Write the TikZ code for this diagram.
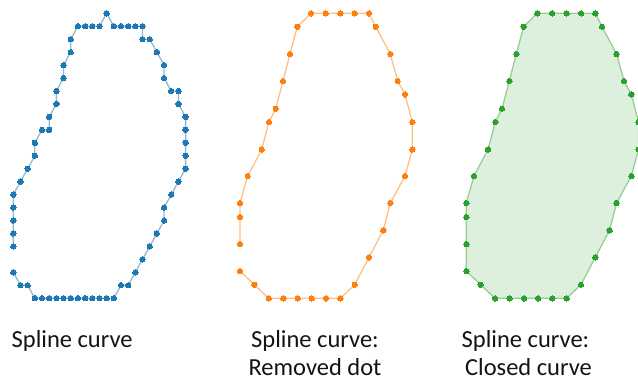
\documentclass[tikz,border=0pt]{standalone}
\usepackage{fontspec}
\setmainfont{Carlito}
\definecolor{tabblue}{HTML}{1F77B4}
\definecolor{taborange}{HTML}{FF7F0E}
\definecolor{tabgreen}{HTML}{2CA02C}
\tikzset{
  bluecurve/.style={draw=tabblue!50, line width=1.3pt},
  orangecurve/.style={draw=taborange!50, line width=1.3pt},
  greencurve/.style={draw=tabgreen!50, fill=tabgreen!16, line width=1.3pt},
  caption/.style={font=\fontsize{24.5}{28}\selectfont, inner sep=0pt, text=black!92},
}
\begin{document}
\begin{tikzpicture}[x=1pt, y=-1pt]
\useasboundingbox (0,0) rectangle (638,383);
\clip (0,0) rectangle (638,383);

% open spline through grid points (with a small notch at the top)
\begin{scope}[shift={(13.3,13.3)}, x=7.18pt, y=-12.95pt]
\draw[bluecurve] plot[mark=*, mark size=2.7pt, mark options={fill=tabblue, draw=tabblue, line width=0pt}] coordinates {
 (0,20) (1,21) (2,21) (3,22) (4,22) (5,22) (6,22) (7,22) (8,22) (9,22) (10,22)
 (11,22) (12,22) (13,22) (14,22) (15,21) (16,21) (17,20) (18,19) (19,18) (20,17)
 (21,16) (21,15) (22,14) (23,13) (24,12) (24,11) (24,10) (24,9) (24,8) (23,7)
 (23,6) (22,6) (21,5) (21,4) (20,3) (19,2) (18,2) (18,1) (17,1) (16,1) (15,1)
 (14,1) (13,0) (12,1) (11,1) (10,1) (9,1) (8,2) (8,3) (7,4) (7,5) (6,6) (6,7)
 (5,8) (5,9) (4,9) (3,10) (3,11) (2,12) (1,13) (0,14) (0,15) (0,16) (0,17) (0,18)};
\end{scope}

% same spline with the notch point removed, still open
\draw[orangecurve] plot[mark=*, mark size=2.7pt, mark options={fill=taborange, draw=taborange, line width=0pt}] coordinates {
 (240,271) (254.3,284.7) (268.7,298.3) (283.3,298.3) (297.7,298.3) (311.7,298.3)
 (326,298.3) (340.3,298.3) (354.7,284.7) (369,257.3) (383.3,230.3) (390.3,203)
 (405,176) (412.3,149.5) (412.3,122) (405,94.3) (397.7,81) (390.3,54)
 (375.7,26.7) (369,13.3) (354.7,13.3) (340.3,13.3) (325.7,13.3) (311,13.3)
 (297.3,26.7) (290,54) (283,81) (275.7,108.7) (269,122) (261.7,149.5)
 (247.7,176) (240,203) (240,217) (240,244)};

% closed and filled version
\begin{scope}[xshift=226.3pt]
\filldraw[greencurve] plot[mark=*, mark size=2.7pt, mark options={fill=tabgreen, draw=tabgreen, line width=0pt}] coordinates {
 (240,271) (254.3,284.7) (268.7,298.3) (283.3,298.3) (297.7,298.3) (311.7,298.3)
 (326,298.3) (340.3,298.3) (354.7,284.7) (369,257.3) (383.3,230.3) (390.3,203)
 (405,176) (412.3,149.5) (412.3,122) (405,94.3) (397.7,81) (390.3,54)
 (375.7,26.7) (369,13.3) (354.7,13.3) (340.3,13.3) (325.7,13.3) (311,13.3)
 (297.3,26.7) (290,54) (283,81) (275.7,108.7) (269,122) (261.7,149.5)
 (247.7,176) (240,203) (240,217) (240,244)} -- cycle;
\end{scope}

% captions
\node[caption, anchor=base west] (capa) at (11.5,347.3) {Spline curve};
\node[caption, anchor=base] (capb1) at (315,347.3) {Spline curve:};
\node[caption, anchor=base] (capb2) at (315,375) {Removed dot};
\node[caption, anchor=base] (capc1) at (525.5,347.3) {Spline curve:};
\node[caption, anchor=base] (capc2) at (528.5,375) {Closed curve};
\end{tikzpicture}
\end{document}
